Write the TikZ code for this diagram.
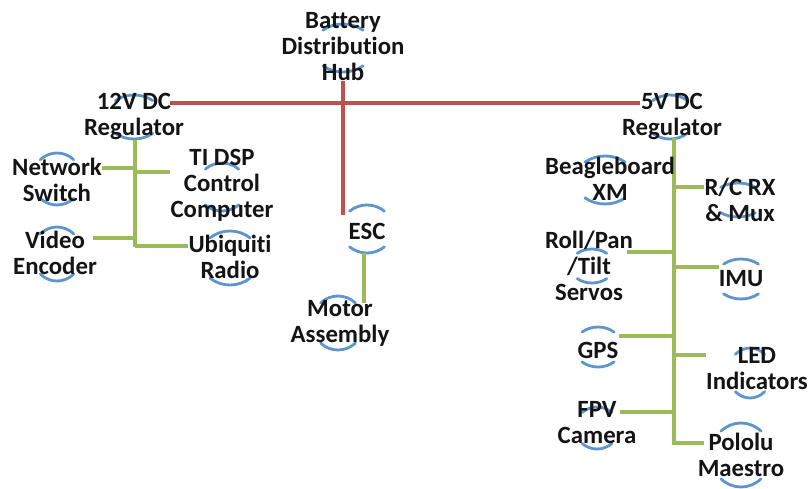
\documentclass[tikz,border=0pt]{standalone}
\usepackage{fontspec}
\setmainfont{Carlito}[Ligatures=NoCommon]
\usetikzlibrary{backgrounds,calc}
\definecolor{redline}{HTML}{C0504D}
\definecolor{greenline}{HTML}{9BBB59}
\definecolor{bluearc}{HTML}{5E95CC}
\definecolor{txt}{HTML}{141414}
\tikzset{
  lbl/.style={align=center,inner sep=0pt,text=txt,font=\bfseries\fontsize{24.8}{26}\selectfont},
  redc/.style={draw=redline,line width=4pt},
  grnc/.style={draw=greenline,line width=3.5pt},
  arcdeco/.style={draw=bluearc,line width=2.8pt,line cap=round}
}
\newcommand{\blarcs}[4]{%
  \draw[arcdeco] (#1,#2) ++(228:{#3} and {#4}) arc[start angle=228,end angle=312,x radius=#3,y radius=#4];
  \draw[arcdeco] (#1,#2) ++(48:{#3} and {#4}) arc[start angle=48,end angle=132,x radius=#3,y radius=#4];
}
\begin{document}
\begin{tikzpicture}[x=1pt,y=-1pt]
\useasboundingbox (0,0) rectangle (808,489);
% nodes
\node[lbl] (hub) at (343,47) {Battery\\Distribution\\Hub};
\node[lbl] (r12) at (134,116) {12V DC\\Regulator};
\node[lbl] (nsw) at (57,180) {Network\\Switch};
\node[lbl] (tidsp) at (222,185) {TI DSP\\Control\\Computer};
\node[lbl] (venc) at (55,253) {Video\\Encoder};
\node[lbl] (ubq) at (230,257) {Ubiquiti\\Radio};
\node[lbl] (esc) at (367,231) {ESC};
\node[lbl] (motor) at (340,323) {Motor\\Assembly};
\node[lbl] (r5) at (672,116) {5V DC\\Regulator};
\node[lbl] (bb) at (610,179) {Beagleboard\\XM};
\node[lbl] (rcrx) at (740,200) {R/C RX\\\& Mux};
\node[lbl] (rpt) at (589,266) {Roll/Pan\\/Tilt\\Servos};
\node[lbl] (imu) at (741,279) {IMU};
\node[lbl] (gps) at (598,350) {GPS};
\node[lbl] (led) at (757,369) {LED\\Indicators};
\node[lbl] (fpv) at (597,423) {FPV\\Camera};
\node[lbl] (pol) at (741,455) {Pololu\\Maestro};
% junction coordinates
\coordinate (escj) at (343,215);
\coordinate (l12) at (170,103);
\coordinate (r5l) at (640,103);
\coordinate (b12t) at (135,140);
\coordinate (b12b) at (135,247);
\coordinate (jnsw) at (135,168);
\coordinate (b5t) at (674,138);
\coordinate (b5b) at (674,445);
\begin{scope}[on background layer]
  \fill[white] (0,0) rectangle (808,489);
  % blue arc decorations
  \blarcs{343}{48}{30}{24}
  \blarcs{134}{117}{28}{22}
  \blarcs{57}{179}{25}{26}
  \blarcs{222}{187}{25}{24}
  \blarcs{57}{254}{25}{27}
  \blarcs{230}{258}{30}{27}
  \blarcs{367}{229}{26}{24}
  \blarcs{338}{323}{26}{27}
  \blarcs{670}{117}{26}{22}
  \blarcs{605}{180}{30}{24}
  \blarcs{738}{200}{26}{17}
  \blarcs{592}{266}{22}{17}
  \blarcs{741}{279}{26}{20}
  \blarcs{598}{347}{24}{20}
  \blarcs{750}{373}{22}{25}
  \blarcs{597}{428}{22}{21}
  \blarcs{741}{455}{30}{32}
  % red power lines
  \draw[redc] (hub.south) -- (escj);
  \draw[redc] (l12) -- (r5l);
  % green 12V bus
  \draw[grnc] (b12t) -- (b12b);
  \draw[grnc] (nsw.east |- jnsw) -- (jnsw);
  \draw[grnc] (135,172) -- (tidsp.west |- 0,172);
  \draw[grnc] ($(venc.east)+(-4,-15)$) -- (135,238);
  \draw[grnc] (135,246) -- ($(ubq.west)+(0,-11)$);
  % ESC to motor
  \draw[grnc] ($(esc.south)+(-3,14)$) -- ($(motor.north)+(24,3)$);
  % green 5V bus
  \draw[grnc] (b5t) -- (b5b);
  \draw[grnc] (674,187) -- ($(rcrx.west)+(0,-13)$);
  \draw[grnc] ($(rpt.east)+(-6,-14)$) -- (674,252);
  \draw[grnc] (674,267) -- (imu.west |- 0,267);
  \draw[grnc] ($(gps.east)+(0,-14)$) -- (674,336);
  \draw[grnc] (674,355) -- (led.west |- 0,355);
  \draw[grnc] ($(fpv.east)+(-16,-11)$) -- (674,412);
  \draw[grnc] (674,443) -- ($(pol.west)+(6,-12)$);
\end{scope}
\end{tikzpicture}
\end{document}
